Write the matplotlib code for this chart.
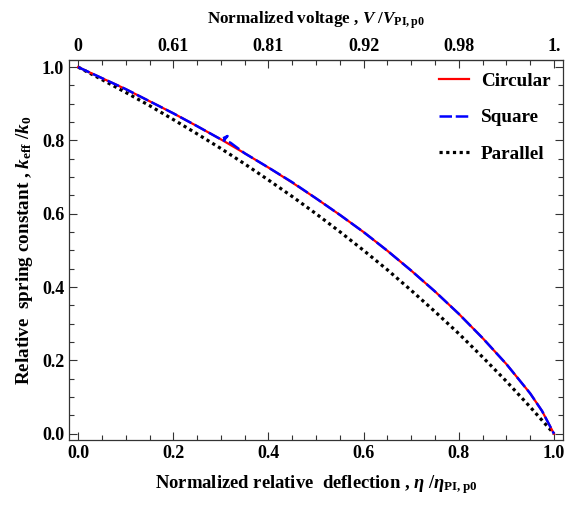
import matplotlib
matplotlib.use("Agg")
import matplotlib.pyplot as plt
from matplotlib.ticker import MultipleLocator

plt.rcParams['font.family'] = ['Liberation Serif', 'DejaVu Serif']
plt.rcParams['font.weight'] = 'bold'
plt.rcParams['mathtext.fontset'] = 'custom'
plt.rcParams['mathtext.rm'] = 'Liberation Serif:bold'
plt.rcParams['mathtext.bf'] = 'Liberation Serif:bold'
plt.rcParams['mathtext.it'] = 'Liberation Serif:italic:bold'

# Data
eta = [0.0, 0.05, 0.10, 0.15, 0.20, 0.25, 0.30, 0.35, 0.40, 0.45, 0.50,
       0.55, 0.60, 0.65, 0.70, 0.75, 0.80, 0.85, 0.90, 0.95, 0.975, 1.0]
circular = [1.000, 0.970, 0.940, 0.907, 0.874, 0.839, 0.803, 0.765, 0.726, 0.685, 0.642,
            0.597, 0.550, 0.499, 0.445, 0.388, 0.327, 0.261, 0.190, 0.110, 0.062, 0.000]

eta_sq = [0.0, 0.05, 0.10, 0.15, 0.20, 0.25, 0.30, 0.314, 0.306, 0.32, 0.35, 0.40, 0.45, 0.50,
          0.55, 0.60, 0.65, 0.70, 0.75, 0.80, 0.85, 0.90, 0.95, 0.975, 1.0]
square = [1.000, 0.970, 0.940, 0.907, 0.874, 0.839, 0.803, 0.812, 0.800, 0.794, 0.765, 0.726, 0.686, 0.642,
          0.597, 0.550, 0.499, 0.445, 0.388, 0.327, 0.261, 0.190, 0.110, 0.062, 0.000]

eta_par = [0.0, 0.05, 0.10, 0.15, 0.20, 0.25, 0.30, 0.35, 0.40, 0.45, 0.50,
           0.55, 0.60, 0.65, 0.70, 0.75, 0.80, 0.85, 0.90, 0.95, 1.0]
parallel = [1.000, 0.966, 0.931, 0.895, 0.857, 0.818, 0.778, 0.736, 0.692, 0.647, 0.600,
            0.551, 0.500, 0.447, 0.391, 0.333, 0.273, 0.209, 0.143, 0.073, 0.000]

bottom_ticks = [0.0, 0.2, 0.4, 0.6, 0.8, 1.0]
bottom_labels = ["0.0", "0.2", "0.4", "0.6", "0.8", "1.0"]
top_labels = ["0", "0.61", "0.81", "0.92", "0.98", "1."]
y_ticks = [0.0, 0.2, 0.4, 0.6, 0.8, 1.0]
y_labels = ["0.0", "0.2", "0.4", "0.6", "0.8", "1.0"]

fig = plt.figure(figsize=(5.71, 5.11), dpi=100)
ax = fig.add_axes([0.121, 0.139, 0.865, 0.744])

ax.plot(eta, circular, color='#ff0000', lw=1.6, label='Circular', zorder=3)
ax.plot(eta_sq, square, color='#0000ff', lw=1.8, ls=(0, (5, 1.5)), label='Square', zorder=4)
ax.plot(eta_par, parallel, color='black', lw=2.3, ls=(0, (1.0, 1.1)), label='Parallel', zorder=2)

ax.set_xlim(-0.019, 1.019)
ax.set_ylim(-0.017, 1.02)

ax.set_xticks(bottom_ticks)
ax.set_xticklabels(bottom_labels)
ax.set_yticks(y_ticks)
ax.set_yticklabels(y_labels)
ax.xaxis.set_minor_locator(MultipleLocator(0.05))
ax.yaxis.set_minor_locator(MultipleLocator(0.05))
ax.tick_params(which='both', direction='in', top=False, right=True, labelsize=13, color='#333333')
ax.tick_params(which='major', length=6, width=0.8)
ax.tick_params(which='minor', length=3.5, width=0.8)
for s in ax.spines.values():
    s.set_color('#333333')
    s.set_linewidth(0.9)

sec = ax.secondary_xaxis('top')
sec.set_xticks(bottom_ticks)
sec.set_xticklabels(top_labels)
sec.xaxis.set_minor_locator(MultipleLocator(0.05))
sec.tick_params(which='both', direction='in', labelsize=13, color='#333333')
sec.tick_params(which='major', length=6, width=0.8)
sec.tick_params(which='minor', length=3.5, width=0.8)
sec.spines['top'].set_color('#333333')
sec.set_xlabel(r"Normalized voltage , $V$ /$V_{\mathrm{PI,p0}}$", fontsize=12.3, fontweight='bold', labelpad=10)

ax.set_xlabel(r"Normalized relative  deflection , $\eta$ /$\eta_{\mathrm{PI,p0}}$", fontsize=13.4, fontweight='bold', labelpad=8)
ax.set_ylabel(r"Relative  spring constant , $k_{\mathrm{eff}}$ /$k_0$", fontsize=13.8, fontweight='bold', labelpad=5)

leg = ax.legend(loc='upper right', frameon=False, fontsize=13.8, handlelength=1.6,
                handletextpad=0.6, labelspacing=1.0, borderaxespad=0.25)
for t in leg.get_texts():
    t.set_fontweight('bold')

fig.savefig("out.png", dpi=100)
